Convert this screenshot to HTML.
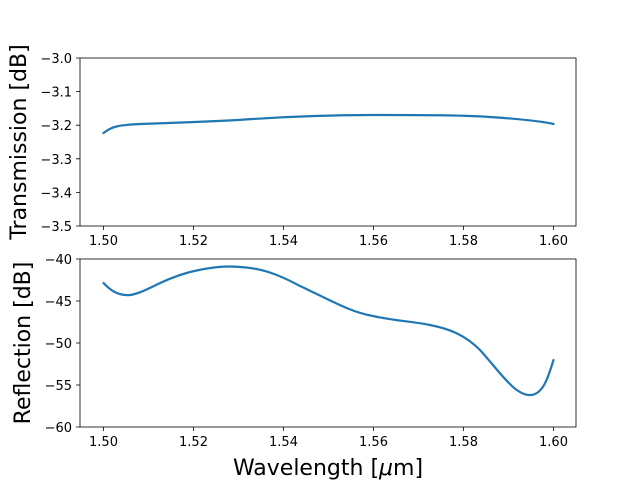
<!DOCTYPE html>
<html><head><style>body{margin:0;background:#fff}</style></head><body>
<svg width="640" height="480" xmlns="http://www.w3.org/2000/svg" font-family="DejaVu Sans, Liberation Sans, sans-serif">
<rect width="640" height="480" fill="#fff"/>
<g fill="none" stroke="#1f77b4" stroke-width="2.2" stroke-linecap="round">
<path d="M103.5,133 C112,126 120,125 140,124 C170,123 200,122 238,120 C280,117 320,115 373,115 C420,115 460,115 490,117 C520,119 540,121 553.5,124"/>
<path d="M103.5,283 C110,290 118,296 130,295 C145,293 160,280 190,272 C215,266 228,266 240,267 C265,268 285,278 300,286 C330,300 350,312 373,316 C395,321 410,321 430,325 C450,329 465,335 480,350 C500,372 515,396 531,395 C543,394 548,378 553.5,360"/>
</g>
<g fill="none" stroke="#000" stroke-width="0.8">
<rect x="80" y="58" width="496" height="168"/>
<rect x="80" y="259" width="496" height="168"/>
<path d="M103.5,226v4M193.5,226v4M283.5,226v4M373.5,226v4M463.5,226v4M553.5,226v4
M103.5,427v4M193.5,427v4M283.5,427v4M373.5,427v4M463.5,427v4M553.5,427v4
M80,58h-4M80,91.6h-4M80,125.2h-4M80,158.8h-4M80,192.4h-4M80,226h-4
M80,259h-4M80,301h-4M80,343h-4M80,385h-4M80,427h-4"/>
</g>
<g font-size="13" fill="#000" text-anchor="middle">
<text x="103.5" y="245">1.50</text><text x="193.5" y="245">1.52</text><text x="283.5" y="245">1.54</text><text x="373.5" y="245">1.56</text><text x="463.5" y="245">1.58</text><text x="553.5" y="245">1.60</text>
<text x="103.5" y="446">1.50</text><text x="193.5" y="446">1.52</text><text x="283.5" y="446">1.54</text><text x="373.5" y="446">1.56</text><text x="463.5" y="446">1.58</text><text x="553.5" y="446">1.60</text>
</g>
<g font-size="13" fill="#000" text-anchor="end">
<text x="72" y="63">−3.0</text><text x="72" y="96.6">−3.1</text><text x="72" y="130.2">−3.2</text><text x="72" y="163.8">−3.3</text><text x="72" y="197.4">−3.4</text><text x="72" y="231">−3.5</text>
<text x="72" y="264">−40</text><text x="72" y="306">−45</text><text x="72" y="348">−50</text><text x="72" y="390">−55</text><text x="72" y="432">−60</text>
</g>
<text x="328" y="475" font-size="22" text-anchor="middle">Wavelength [<tspan font-style="italic">μ</tspan>m]</text>
<text transform="translate(26,142) rotate(-90)" font-size="22" text-anchor="middle">Transmission [dB]</text>
<text transform="translate(30,343) rotate(-90)" font-size="22" text-anchor="middle">Reflection [dB]</text>
</svg>
</body></html>
